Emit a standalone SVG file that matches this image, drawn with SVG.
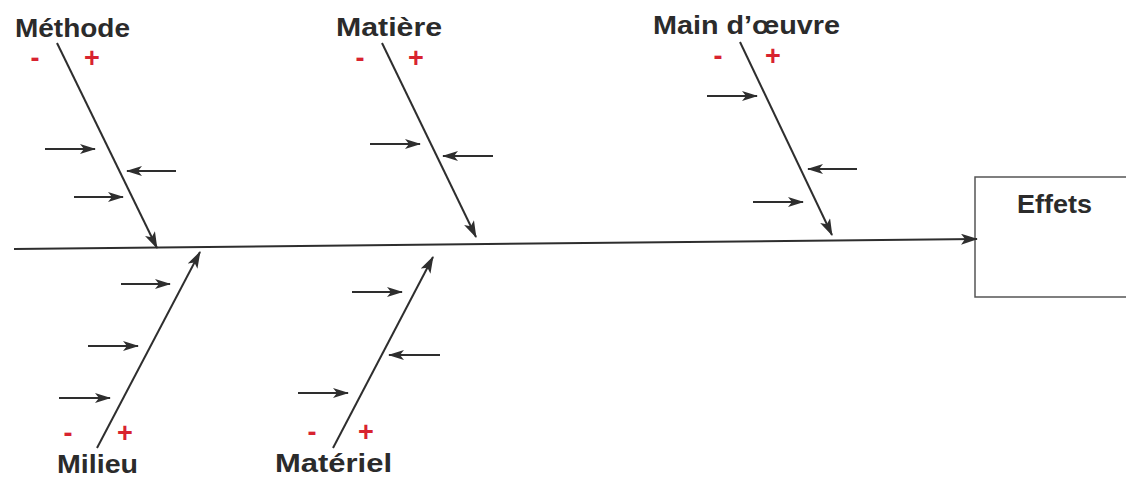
<svg xmlns="http://www.w3.org/2000/svg" width="1126" height="480" viewBox="0 0 1126 480">
<defs>
<marker id="ah" markerUnits="userSpaceOnUse" markerWidth="17" markerHeight="11" refX="16" refY="5.5" orient="auto">
<path d="M0,0 L17,5.5 L0,11 L4,5.5 z" fill="#2e2e2e"/>
</marker>
<marker id="ahs" markerUnits="userSpaceOnUse" markerWidth="16" markerHeight="10" refX="15" refY="5" orient="auto">
<path d="M0,0 L16,5 L0,10 L4,5 z" fill="#2e2e2e"/>
</marker>
<style>
.lbl{font-family:"Liberation Sans",Arial,sans-serif;font-weight:bold;font-size:26px;fill:#2b2b2b}
.sgn{font-family:"Liberation Sans",Arial,sans-serif;font-weight:bold;font-size:27px;fill:#d8232f;text-anchor:middle}
.bone{stroke:#2e2e2e;stroke-width:2;fill:none;marker-end:url(#ah)}
.sub{stroke:#2e2e2e;stroke-width:2;fill:none;marker-end:url(#ahs)}
</style>
</defs>
<rect width="1126" height="480" fill="#ffffff"/>

<g id="effets">
<rect x="975" y="177" width="160" height="120" fill="#ffffff" stroke="#555" stroke-width="1.5"/>
<text class="lbl" x="1017" y="213" textLength="75" lengthAdjust="spacingAndGlyphs">Effets</text>
</g>

<g id="methode">
<text class="lbl" x="15" y="37" textLength="115" lengthAdjust="spacingAndGlyphs">Méthode</text>
<text class="sgn" x="35" y="67">-</text>
<text class="sgn" x="92" y="67">+</text>
</g>
<g id="matiere">
<text class="lbl" x="336" y="36" textLength="106" lengthAdjust="spacingAndGlyphs">Matière</text>
<text class="sgn" x="360" y="67">-</text>
<text class="sgn" x="416" y="67">+</text>
</g>
<g id="main-oeuvre">
<text class="lbl" x="653" y="34" textLength="187" lengthAdjust="spacingAndGlyphs">Main d’œuvre</text>
<text class="sgn" x="718" y="65">-</text>
<text class="sgn" x="773" y="65">+</text>
</g>
<g id="milieu">
<text class="lbl" x="57" y="473" textLength="81" lengthAdjust="spacingAndGlyphs">Milieu</text>
<text class="sgn" x="68" y="442">-</text>
<text class="sgn" x="125" y="442">+</text>
</g>
<g id="materiel">
<text class="lbl" x="275" y="472" textLength="117" lengthAdjust="spacingAndGlyphs">Matériel</text>
<text class="sgn" x="312" y="441">-</text>
<text class="sgn" x="366" y="441">+</text>
</g>

<g id="connectors">
<line class="bone" x1="14" y1="249" x2="977" y2="239"/>
<!-- Méthode -->
<line class="bone" x1="57" y1="43" x2="157" y2="248"/>
<line class="sub" x1="45" y1="149" x2="95" y2="149"/>
<line class="sub" x1="176" y1="171" x2="127" y2="171"/>
<line class="sub" x1="74" y1="197" x2="123" y2="197"/>
<!-- Matière -->
<line class="bone" x1="382" y1="43" x2="476" y2="237"/>
<line class="sub" x1="370" y1="144" x2="420" y2="144"/>
<line class="sub" x1="493" y1="156" x2="443" y2="156"/>
<!-- Main d'oeuvre -->
<line class="bone" x1="740" y1="42" x2="832" y2="235"/>
<line class="sub" x1="707" y1="96" x2="757" y2="96"/>
<line class="sub" x1="857" y1="169" x2="808" y2="169"/>
<line class="sub" x1="753" y1="202" x2="803" y2="202"/>
<!-- Milieu -->
<line class="bone" x1="97" y1="448" x2="200" y2="252"/>
<line class="sub" x1="121" y1="284" x2="170" y2="284"/>
<line class="sub" x1="88" y1="346" x2="138" y2="346"/>
<line class="sub" x1="59" y1="398" x2="110" y2="398"/>
<!-- Matériel -->
<line class="bone" x1="333" y1="448" x2="433" y2="257"/>
<line class="sub" x1="352" y1="292" x2="402" y2="292"/>
<line class="sub" x1="440" y1="355" x2="389" y2="355"/>
<line class="sub" x1="298" y1="393" x2="348" y2="393"/>
</g>
</svg>
